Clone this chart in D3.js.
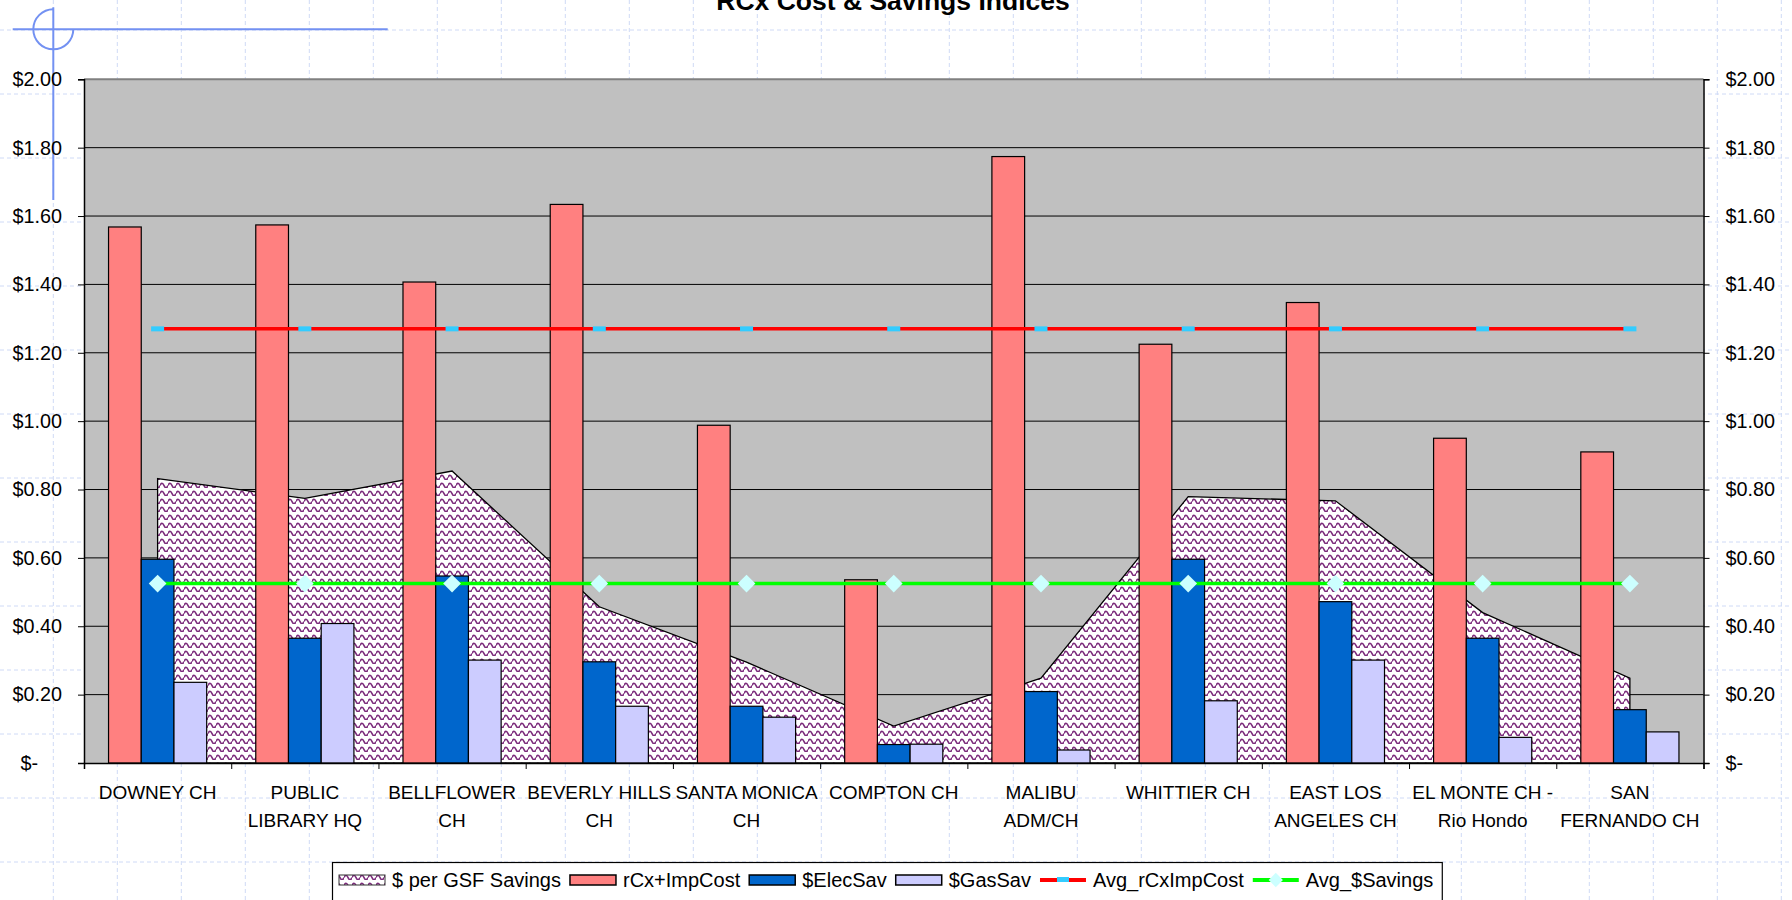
<html>
<script src='https://d3js.org/d3.v7.min.js'></script>
<style>
    body { margin: 0; background: #fff; }
    text { font-family: "Liberation Sans", Arial, sans-serif; }
</style>
    <body onload='init()'>
        <svg width=1792 height=900 id="chart1"></svg>
        <script>
            // ---- data ----
            var categories = ["DOWNEY CH", "PUBLIC\nLIBRARY HQ", "BELLFLOWER\nCH", "BEVERLY HILLS\nCH",
                              "SANTA MONICA\nCH", "COMPTON CH", "MALIBU\nADM/CH", "WHITTIER CH",
                              "EAST LOS\nANGELES CH", "EL MONTE CH -\nRio Hondo", "SAN\nFERNANDO CH"];
            var gsfSavings  = [0.832, 0.774, 0.854, 0.457, 0.295, 0.108, 0.248, 0.779, 0.767, 0.440, 0.248];
            var rcxImpCost  = [1.568, 1.574, 1.407, 1.634, 0.988, 0.536, 1.774, 1.225, 1.347, 0.950, 0.910];
            var elecSav     = [0.596, 0.365, 0.547, 0.296, 0.166, 0.054, 0.209, 0.596, 0.472, 0.365, 0.156];
            var gasSav      = [0.236, 0.408, 0.301, 0.166, 0.134, 0.055, 0.038, 0.182, 0.301, 0.075, 0.091];
            var avgCost     = [1.27, 1.27, 1.27, 1.27, 1.27, 1.27, 1.27, 1.27, 1.27, 1.27, 1.27];
            var avgSavings  = [0.525, 0.525, 0.525, 0.525, 0.525, 0.525, 0.525, 0.525, 0.525, 0.525, 0.525];
            var yTicks      = [0, 0.2, 0.4, 0.6, 0.8, 1.0, 1.2, 1.4, 1.6, 1.8, 2.0];
            var legendNames = ["$ per GSF Savings", "rCx+ImpCost", "$ElecSav", "$GasSav", "Avg_rCxImpCost", "Avg_$Savings"];

            function init() {
                var svg = d3.select("svg"),
                    W = +svg.attr("width"), H = +svg.attr("height");

                var left = 84, right = 1703.5, top = 79.3, bottom = 763;

                var x = d3.scaleBand().domain(categories).range([left, right]).padding(0);
                var xs = d3.scaleBand().domain(["cost", "elec", "gas"])
                           .range([0, x.bandwidth()]).paddingInner(0).paddingOuter(0.75);
                var xb = d3.scaleLinear().domain([0, categories.length]).range([left, right]);
                var y = d3.scaleLinear().domain([0, 2]).range([bottom, top]);
                var cx = function (c) { return x(c) + x.bandwidth() / 2; };

                var defs = svg.append("defs");
                var pat = defs.append("pattern").attr("id", "zig")
                    .attr("width", 8).attr("height", 8).attr("patternUnits", "userSpaceOnUse");
                pat.append("rect").attr("width", 8).attr("height", 8).attr("fill", "#fff");
                pat.append("path").attr("d", "M0,5.5 Q2,1 4,5.5 T8,5.5")
                    .attr("fill", "none").attr("stroke", "#7b2a7b").attr("stroke-width", 1.7);

                // page grid (dashed)
                var bg = svg.append("g");
                d3.range(53.3, W, 64).forEach(function (gx) {
                    bg.append("line").attr("x1", gx).attr("x2", gx).attr("y1", 0).attr("y2", H)
                      .attr("stroke", "#cfdaf6").attr("stroke-dasharray", "4,3");
                });
                d3.range(30, H, 64).forEach(function (gy) {
                    bg.append("line").attr("x1", 0).attr("x2", W).attr("y1", gy).attr("y2", gy)
                      .attr("stroke", "#cfdaf6").attr("stroke-dasharray", "4,3");
                });

                // crosshair mark in the corner
                var ch = svg.append("g").attr("stroke", "#7391f2").attr("stroke-width", 2).attr("fill", "none");
                ch.append("line").attr("x1", 12.7).attr("x2", 387.7).attr("y1", 29.3).attr("y2", 29.3);
                ch.append("line").attr("x1", 53.3).attr("x2", 53.3).attr("y1", 7.3).attr("y2", 200);
                ch.append("path").attr("d", "M53.3,9.3 A20,20 0 1,0 73.3,29.3");

                // plot area
                svg.append("rect").attr("x", left).attr("y", top)
                   .attr("width", right - left).attr("height", bottom - top)
                   .attr("fill", "#c0c0c0");
                svg.append("line").attr("x1", left).attr("x2", right).attr("y1", top).attr("y2", top)
                   .attr("stroke", "#808080").attr("stroke-width", 2);

                svg.append("g").selectAll("line").data(yTicks.slice(1, -1)).enter().append("line")
                   .attr("x1", left).attr("x2", right)
                   .attr("y1", function (d) { return y(d); }).attr("y2", function (d) { return y(d); })
                   .attr("stroke", "#000").attr("stroke-width", 1);

                // area
                var area = d3.area()
                    .x(function (d, i) { return cx(categories[i]); })
                    .y0(y(0)).y1(function (d) { return y(d); });
                svg.append("path").datum(gsfSavings).attr("d", area)
                   .attr("fill", "url(#zig)").attr("stroke", "#000").attr("stroke-width", 1.3);

                // bars
                var barSeries = [
                    { key: "cost", vals: rcxImpCost, color: "#ff8080" },
                    { key: "elec", vals: elecSav, color: "#0066cc" },
                    { key: "gas",  vals: gasSav,  color: "#ccccff" }
                ];
                barSeries.forEach(function (s) {
                    svg.append("g").selectAll("rect").data(s.vals).enter().append("rect")
                       .attr("x", function (d, i) { return x(categories[i]) + xs(s.key); })
                       .attr("width", xs.bandwidth())
                       .attr("y", function (d) { return y(d); })
                       .attr("height", function (d) { return y(0) - y(d); })
                       .attr("fill", s.color).attr("stroke", "#000").attr("stroke-width", 1.2);
                });

                // average lines
                var line = d3.line().x(function (d, i) { return cx(categories[i]); }).y(function (d) { return y(d); });
                svg.append("path").datum(avgCost).attr("d", line)
                   .attr("fill", "none").attr("stroke", "#ff0000").attr("stroke-width", 3.5);
                svg.append("g").selectAll("rect").data(avgCost).enter().append("rect")
                   .attr("x", function (d, i) { return cx(categories[i]) - 6.5; })
                   .attr("y", function (d) { return y(d) - 2.5; })
                   .attr("width", 13).attr("height", 5).attr("fill", "#33ccff");
                svg.append("path").datum(avgSavings).attr("d", line)
                   .attr("fill", "none").attr("stroke", "#00ff00").attr("stroke-width", 3.5);
                svg.append("g").selectAll("path").data(avgSavings).enter().append("path")
                   .attr("d", d3.symbol().type(d3.symbolDiamond2).size(200))
                   .attr("transform", function (d, i) { return "translate(" + cx(categories[i]) + "," + y(d) + ")"; })
                   .attr("fill", "#ccffff");

                // axes
                var fmt = function (d) { return d === 0 ? "$-" : "$" + d3.format(".2f")(d); };
                var gl = svg.append("g").attr("transform", "translate(" + left + ",0)")
                    .call(d3.axisLeft(y).tickValues(yTicks).tickSize(6).tickPadding(16).tickFormat(fmt));
                var gr = svg.append("g").attr("transform", "translate(" + right + ",0)")
                    .call(d3.axisRight(y).tickValues(yTicks).tickSize(6).tickPadding(16).tickFormat(fmt));
                var gb = svg.append("g").attr("transform", "translate(0," + bottom + ")")
                    .call(d3.axisBottom(xb).ticks(categories.length).tickSize(6).tickFormat(""));
                [gl, gr, gb].forEach(function (g) {
                    g.select(".domain").attr("stroke", "#000").attr("stroke-width", 1.5);
                    g.selectAll(".tick line").attr("stroke", "#000");
                    g.selectAll("text").attr("font-size", 19.8).attr("font-family", "Liberation Sans, Arial").attr("fill", "#000");
                });
                gl.selectAll(".tick text").filter(function (d) { return d === 0; }).attr("dx", -24);

                // category labels
                var lab = svg.append("g").selectAll("text").data(categories).enter().append("text")
                    .attr("x", cx).attr("y", 798.5).attr("text-anchor", "middle")
                    .attr("font-size", 19);
                lab.each(function (c) {
                    var t = d3.select(this);
                    c.split("\n").forEach(function (part, k) {
                        t.append("tspan").attr("x", cx(c)).attr("dy", k === 0 ? 0 : 28.5).text(part);
                    });
                });

                // title
                svg.append("text").attr("x", 893).attr("y", 10).attr("text-anchor", "middle")
                   .attr("font-size", 26.5).attr("font-weight", "bold").text("RCx Cost & Savings Indices");

                // legend
                var lg = svg.append("g");
                var box = lg.append("rect").attr("x", 332.5).attr("y", 862.5).attr("height", 50)
                    .attr("fill", "#fff").attr("stroke", "#000").attr("stroke-width", 1.2);
                var lx = 339, ly = 880;
                var swatches = [
                    function (g, x0) { g.append("rect").attr("x", x0).attr("y", ly - 5).attr("width", 46).attr("height", 10)
                        .attr("fill", "url(#zig)").attr("stroke", "#333"); },
                    function (g, x0) { g.append("rect").attr("x", x0).attr("y", ly - 5).attr("width", 46).attr("height", 10)
                        .attr("fill", "#ff8080").attr("stroke", "#000").attr("stroke-width", 1.5); },
                    function (g, x0) { g.append("rect").attr("x", x0).attr("y", ly - 5).attr("width", 46).attr("height", 10)
                        .attr("fill", "#0066cc").attr("stroke", "#000").attr("stroke-width", 1.5); },
                    function (g, x0) { g.append("rect").attr("x", x0).attr("y", ly - 5).attr("width", 46).attr("height", 10)
                        .attr("fill", "#ccccff").attr("stroke", "#000").attr("stroke-width", 1.5); },
                    function (g, x0) {
                        g.append("line").attr("x1", x0).attr("x2", x0 + 46).attr("y1", ly).attr("y2", ly)
                         .attr("stroke", "#ff0000").attr("stroke-width", 4);
                        g.append("rect").attr("x", x0 + 17).attr("y", ly - 3).attr("width", 12).attr("height", 5).attr("fill", "#33ccff");
                    },
                    function (g, x0) {
                        g.append("line").attr("x1", x0).attr("x2", x0 + 46).attr("y1", ly).attr("y2", ly)
                         .attr("stroke", "#00ff00").attr("stroke-width", 4);
                        g.append("path").attr("d", d3.symbol().type(d3.symbolDiamond2).size(130))
                         .attr("transform", "translate(" + (x0 + 23) + "," + ly + ")").attr("fill", "#ccffff");
                    }
                ];
                legendNames.forEach(function (name, i) {
                    swatches[i](lg, lx);
                    var t = lg.append("text").attr("x", lx + 53).attr("y", ly + 7).attr("font-size", 20).text(name);
                    lx = lx + 53 + t.node().getComputedTextLength() + 9;
                });
                box.attr("width", lx - 332.5);
            }
        </script>
    </body>
</html>
